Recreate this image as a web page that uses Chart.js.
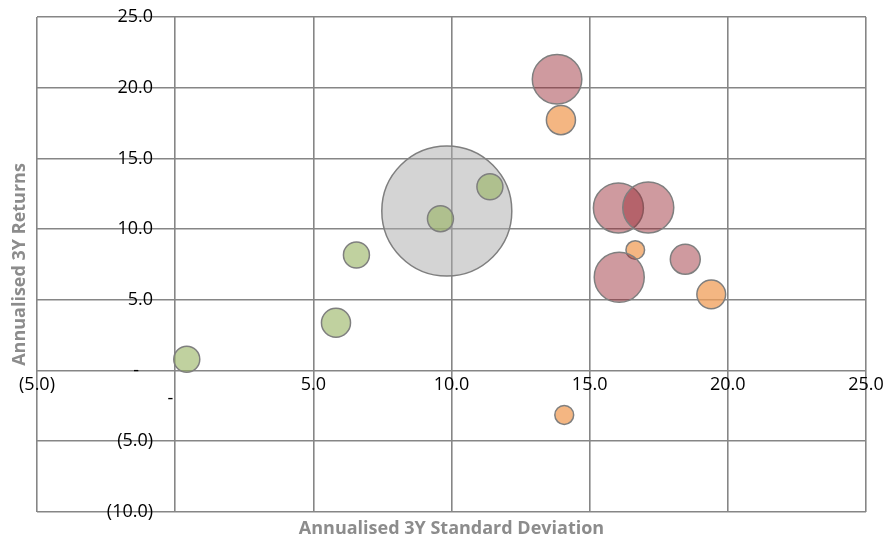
<!DOCTYPE html>
<html>
<head>
<meta charset="utf-8">
<script src="https://cdn.jsdelivr.net/npm/chart.js@4.4.1/dist/chart.umd.min.js"></script>
<style>
    body { margin: 0; background: #fff; }
    #wrap { width: 886px; height: 542px; }
</style>
</head>
<body>
<div id="wrap"><canvas id="chartContainer1" width="886" height="542"></canvas></div>
<script>
// Annualised 3Y standard deviation (x), returns (y) and bubble size per series
const greenX = [0.42, 5.82, 6.56, 9.60, 11.39];
const greenY = [0.80, 3.38, 8.17, 10.74, 13.00];
const greenSize = [4.0, 5.0, 4.0, 4.0, 4.0];

const greyX = [9.83];
const greyY = [11.28];
const greySize = [100];

const orangeX = [13.96, 14.08, 16.65, 19.40];
const orangeY = [17.71, -3.14, 8.53, 5.39];
const orangeSize = [5.0, 2.1, 2.05, 4.9];

const redX = [13.82, 16.04, 17.12, 16.07, 18.46];
const redY = [20.60, 11.50, 11.53, 6.60, 7.87];
const redSize = [14.5, 14.8, 15.4, 14.8, 5.3];

const xTicks = [-5, 0, 5, 10, 15, 20, 25];
const yTicks = [-10, -5, 0, 5, 10, 15, 20, 25];

const xTitle = 'Annualised 3Y Standard Deviation';
const yTitle = 'Annualised 3Y Returns';

document.addEventListener('DOMContentLoaded', function() {
    // bubble area follows the size value
    function toPoints(xs, ys, sizes) {
        return xs.map((x, i) => ({ x: x, y: ys[i], r: 6.5 * Math.sqrt(sizes[i]) }));
    }

    function fmt(v) {
        if (v === 0) return '-';
        const s = Math.abs(v).toFixed(1);
        return v < 0 ? '(' + s + ')' : s;
    }

    // the axes cross inside the plot, so they take no room in the layout
    function noRoom(scale) {
        scale.paddingTop = 0;
        scale.paddingBottom = 0;
        scale.paddingLeft = 0;
        scale.paddingRight = 0;
    }

    const tickFont = { family: 'Open Sans', size: 18 };
    const gridColor = '#868686';

    const axisTitles = {
        id: 'axisTitles',
        afterDraw(chart) {
            const ctx = chart.ctx;
            const area = chart.chartArea;
            ctx.save();
            ctx.fillStyle = '#8c8c8c';
            ctx.font = 'bold 18px "Open Sans"';
            ctx.textAlign = 'center';
            ctx.textBaseline = 'middle';
            ctx.fillText(xTitle, (area.left + area.right) / 2, 529);
            ctx.translate(20, (area.top + area.bottom) / 2);
            ctx.rotate(-Math.PI / 2);
            ctx.fillText(yTitle, 0, 0);
            ctx.restore();
        }
    };

    const border = '#7f7f7f';
    const datasets = [
        {
            label: 'Red',
            data: toPoints(redX, redY, redSize),
            backgroundColor: 'rgba(150, 35, 45, 0.46)',
            borderColor: border,
            borderWidth: 1.5
        },
        {
            label: 'Orange',
            data: toPoints(orangeX, orangeY, orangeSize),
            backgroundColor: 'rgba(240, 158, 88, 0.75)',
            borderColor: border,
            borderWidth: 1.5
        },
        {
            label: 'Green',
            data: toPoints(greenX, greenY, greenSize),
            backgroundColor: 'rgba(150, 178, 95, 0.6)',
            borderColor: border,
            borderWidth: 1.5
        },
        {
            label: 'Grey',
            data: toPoints(greyX, greyY, greySize),
            backgroundColor: 'rgba(170, 170, 170, 0.5)',
            borderColor: border,
            borderWidth: 1.5
        }
    ];

    const ctx = document.getElementById('chartContainer1').getContext('2d');
    new Chart(ctx, {
        type: 'bubble',
        data: { datasets: datasets },
        plugins: [axisTitles],
        options: {
            responsive: false,
            animation: false,
            events: [],
            layout: { autoPadding: false, padding: { left: 37, top: 17, right: 20, bottom: 30 } },
            scales: {
                x: {
                    type: 'linear',
                    // labels hang a little below the zero line, the grid draws the line itself
                    position: { y: -0.22 },
                    min: -5,
                    max: 25,
                    afterBuildTicks: (axis) => { axis.ticks = xTicks.map(v => ({ value: v })); },
                    afterFit: noRoom,
                    grid: { color: gridColor, lineWidth: 1.6, drawTicks: false },
                    border: { display: false },
                    ticks: {
                        color: '#000',
                        font: { family: 'Open Sans', size: 18, lineHeight: 0.8 },
                        padding: 4,
                        maxRotation: 0,
                        autoSkip: false,
                        callback: (v) => v === 0 ? ['', '-\u00a0\u00a0'] : fmt(v)
                    }
                },
                y: {
                    type: 'linear',
                    // labels end a little left of the zero line
                    position: { x: -0.8 },
                    min: -10,
                    max: 25,
                    afterBuildTicks: (axis) => { axis.ticks = yTicks.map(v => ({ value: v })); },
                    afterFit: noRoom,
                    grid: { color: gridColor, lineWidth: 1.6, drawTicks: false },
                    border: { display: false },
                    ticks: {
                        color: '#000',
                        font: tickFont,
                        padding: 0,
                        autoSkip: false,
                        callback: (v) => v === 0 ? '-\u00a0\u00a0\u00a0' : fmt(v)
                    }
                }
            },
            plugins: {
                legend: { display: false },
                tooltip: { enabled: false }
            }
        }
    });
});
</script>
</body>
</html>
